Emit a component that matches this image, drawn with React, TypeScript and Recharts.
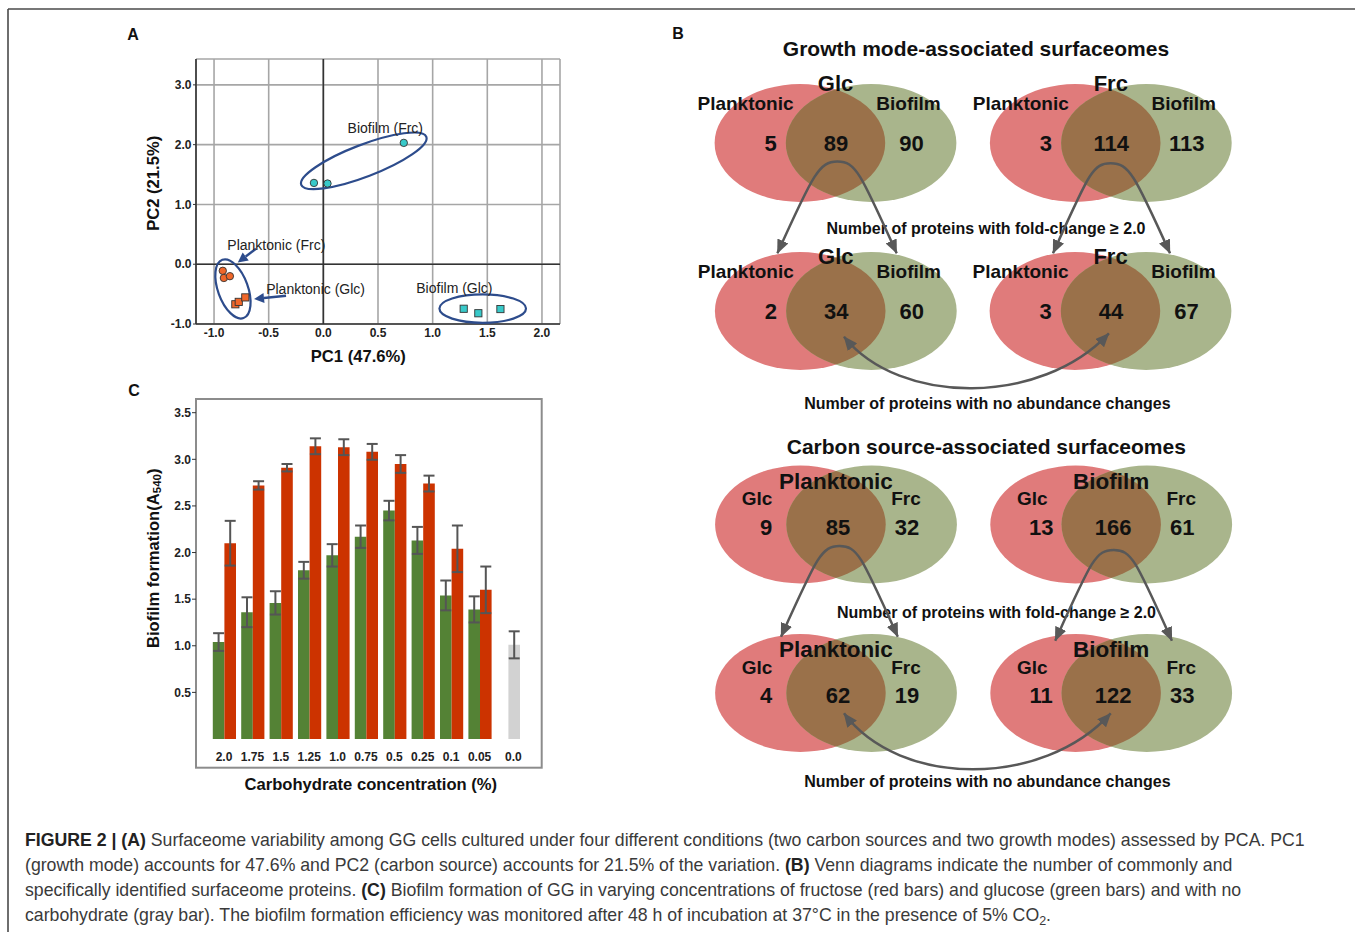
import React from "react";
import {
  ScatterChart,
  Scatter,
  XAxis,
  YAxis,
  CartesianGrid,
  ReferenceLine,
  ReferenceDot,
  BarChart,
  Bar,
  ErrorBar,
  Cell,
} from "recharts";

const FONT = '"Liberation Sans", Arial, Helvetica, sans-serif';

// ---- Panel A: PCA scores ----
const planktonicFrc = [
  { pc1: -0.92, pc2: -0.11 },
  { pc1: -0.91, pc2: -0.23 },
  { pc1: -0.855, pc2: -0.2 },
];
const planktonicGlc = [
  { pc1: -0.805, pc2: -0.67 },
  { pc1: -0.774, pc2: -0.63 },
  { pc1: -0.714, pc2: -0.555 },
];
const biofilmFrc = [
  { pc1: -0.086, pc2: 1.36 },
  { pc1: 0.038, pc2: 1.35 },
  { pc1: 0.736, pc2: 2.03 },
];
const biofilmGlc = [
  { pc1: 1.284, pc2: -0.745 },
  { pc1: 1.418, pc2: -0.82 },
  { pc1: 1.62, pc2: -0.75 },
];
const pc1Ticks = [-1, -0.5, 0, 0.5, 1, 1.5, 2];
const pc2Ticks = [-1, 0, 1, 2, 3];

const groupNames = ["Biofilm (Frc)", "Planktonic (Frc)", "Planktonic (Glc)", "Biofilm (Glc)"];
const groupLabelPc1 = [0.567, -0.43, -0.071, 1.199];
const groupLabelPc2 = [2.28, 0.317, -0.42, -0.4];

// ---- Panel C: biofilm formation ----
const concentrations = ["2.0", "1.75", "1.5", "1.25", "1.0", "0.75", "0.5", "0.25", "0.1", "0.05", "0.0"];
const glucose = [1.04, 1.36, 1.46, 1.81, 1.97, 2.17, 2.45, 2.13, 1.54, 1.39, null];
const glucoseErr = [0.095, 0.16, 0.125, 0.09, 0.12, 0.12, 0.105, 0.145, 0.16, 0.14, null];
const fructose = [2.1, 2.72, 2.91, 3.14, 3.13, 3.08, 2.95, 2.74, 2.04, 1.6, null];
const fructoseErr = [0.24, 0.045, 0.04, 0.085, 0.085, 0.085, 0.095, 0.085, 0.25, 0.25, null];
const noCarbohydrate = 1.01;
const noCarbohydrateErr = 0.145;
const biofilmTicks = [0.5, 1, 1.5, 2, 2.5, 3, 3.5];

const barTable = concentrations.map((c, i) => ({
  conc: c,
  glc: glucose[i],
  glcErr: glucoseErr[i],
  frc: fructose[i] ?? noCarbohydrate,
  frcErr: fructoseErr[i] ?? noCarbohydrateErr,
  control: fructose[i] == null,
}));

// ---- Panel B: Venn counts ----
const growthVenns = [
  { set: "Glc", left: "Planktonic", right: "Biofilm", counts: [5, 89, 90] },
  { set: "Frc", left: "Planktonic", right: "Biofilm", counts: [3, 114, 113] },
  { set: "Glc", left: "Planktonic", right: "Biofilm", counts: [2, 34, 60] },
  { set: "Frc", left: "Planktonic", right: "Biofilm", counts: [3, 44, 67] },
];
const carbonVenns = [
  { set: "Planktonic", left: "Glc", right: "Frc", counts: [9, 85, 32] },
  { set: "Biofilm", left: "Glc", right: "Frc", counts: [13, 166, 61] },
  { set: "Planktonic", left: "Glc", right: "Frc", counts: [4, 62, 19] },
  { set: "Biofilm", left: "Glc", right: "Frc", counts: [11, 122, 33] },
];

// colours
const CYAN = "#38c9c9";
const ORANGE = "#f0672a";
const RING = "#2d4c8c";
const GREEN_BAR = "#548235";
const RED_BAR = "#cc3300";
const GRAY_BAR = "#d2d2d2";
const V_RED = "#e07b7b";
const V_GREEN = "#a9b58c";
const V_MIX = "#9a714a";
const ARROW = "#585858";

// venn layout
const growthPos = [
  { cx: 835.5, cy: 143, tdy: -60 },
  { cx: 1110.8, cy: 143, tdy: -60 },
  { cx: 835.8, cy: 311, tdy: -55 },
  { cx: 1110.5, cy: 311, tdy: -55 },
];
const carbonPos = [
  { cx: 836, cy: 524.5, tdy: -43 },
  { cx: 1111.2, cy: 524.5, tdy: -43 },
  { cx: 836, cy: 693, tdy: -44 },
  { cx: 1111.2, cy: 693, tdy: -44 },
];
const growthStyle = { titleSize: 22, sideSize: 19, sideDx: [-90, 73], sideDy: -40, numDx: [-65, 0.5, 76], numDy: 0.5 };
const carbonStyle = { titleSize: 22.5, sideSize: 19, sideDx: [-79, 70], sideDy: -26, numDx: [-70, 2, 71], numDy: 2.5 };

const RX = 85.3;
const RY = 59;
const HALF = 35.6;

function Venn({ v, pos, st, id }: any) {
  const { cx, cy, tdy } = pos;
  return (
    <g>
      <defs>
        <clipPath id={id}>
          <ellipse cx={cx + HALF} cy={cy} rx={RX} ry={RY} />
        </clipPath>
      </defs>
      <ellipse cx={cx - HALF} cy={cy} rx={RX} ry={RY} fill={V_RED} />
      <ellipse cx={cx + HALF} cy={cy} rx={RX} ry={RY} fill={V_GREEN} />
      <ellipse cx={cx - HALF} cy={cy} rx={RX} ry={RY} fill={V_MIX} clipPath={`url(#${id})`} />
      <g fontWeight={700} fill="#111" textAnchor="middle" dominantBaseline="central">
        <text x={cx} y={cy + tdy} fontSize={st.titleSize}>{v.set}</text>
        <text x={cx + st.sideDx[0]} y={cy + st.sideDy} fontSize={st.sideSize}>{v.left}</text>
        <text x={cx + st.sideDx[1]} y={cy + st.sideDy} fontSize={st.sideSize}>{v.right}</text>
        {v.counts.map((n: number, i: number) => (
          <text key={i} x={cx + st.numDx[i]} y={cy + st.numDy} fontSize={22}>{n}</text>
        ))}
      </g>
    </g>
  );
}

function splitArrow(tipL: number[], peak: number[], tipR: number[]) {
  const [lx, ly] = tipL;
  const [px, py] = peak;
  const [rx, ry] = tipR;
  return `M${lx},${ly} C${lx + 36},${ly - 80} ${px - 18},${py} ${px},${py} C${px + 18},${py} ${rx - 36},${ry - 80} ${rx},${ry}`;
}
function sagArrow(a: number[], b: number[], sag: number) {
  const [ax, ay] = a;
  const [bx, by] = b;
  return `M${ax},${ay} C${ax + 56},${sag} ${bx - 68},${sag} ${bx},${by}`;
}

function ArrowLine(props: any) {
  const { x1, y1, x2, y2 } = props;
  const ang = Math.atan2(y2 - y1, x2 - x1);
  const L = 10;
  const w = 5;
  const bx = x2 - L * Math.cos(ang);
  const by = y2 - L * Math.sin(ang);
  const px = -Math.sin(ang) * w;
  const py = Math.cos(ang) * w;
  return (
    <g>
      <line x1={x1} y1={y1} x2={bx} y2={by} stroke={RING} strokeWidth={2.4} />
      <polygon points={`${x2},${y2} ${bx + px},${by + py} ${bx - px},${by - py}`} fill={RING} />
    </g>
  );
}

const dot = (fill: string) => (p: any) => (
  <circle cx={p.cx} cy={p.cy} r={3.7} fill={fill} stroke="#333" strokeWidth={0.9} />
);
const square = (fill: string) => (p: any) => (
  <rect x={p.cx - 3.6} y={p.cy - 3.6} width={7.2} height={7.2} fill={fill} stroke="#333" strokeWidth={0.9} />
);

const rings = [
  { pc1: 0.37, pc2: 1.73, rx: 67, ry: 16, angle: -21 },
  { pc1: -0.827, pc2: -0.413, rx: 15, ry: 31, angle: -20 },
  { pc1: 1.458, pc2: -0.742, rx: 43.3, ry: 14.2, angle: 0 },
];

const ConcTick = (p: any) => {
  const shift = p.payload.value === "0.0" ? 5.3 : 0;
  return (
    <text x={p.x + shift} y={p.y} dy="0.71em" textAnchor="middle" fontSize={12} fontWeight={700} fill="#222">
      {p.payload.value}
    </text>
  );
};

export default function App() {
  const tickStyle = { fontSize: 12, fontWeight: 700, fill: "#222" };
  return (
    <div style={{ position: "absolute", left: 0, top: 0, width: 1355, height: 932, fontFamily: FONT, background: "#fff", overflow: "hidden" }}>
      <svg width={1355} height={932} style={{ position: "absolute", left: 0, top: 0 }}>
        <defs>
          <marker id="ah" viewBox="0 0 14 12" refX={13.5} refY={6} markerWidth={14} markerHeight={12} markerUnits="userSpaceOnUse" orient="auto-start-reverse">
            <path d="M0,0 L14,6 L0,12 z" fill={ARROW} />
          </marker>
        </defs>
        {/* figure frame */}
        <line x1={8} y1={9} x2={1355} y2={9} stroke="#4a4a4a" strokeWidth={1.6} />
        <line x1={8} y1={9} x2={8} y2={932} stroke="#4a4a4a" strokeWidth={1.6} />

        {/* panel letters */}
        <g fontWeight={700} fontSize={16} fill="#111" textAnchor="middle" dominantBaseline="central">
          <text x={133} y={34}>A</text>
          <text x={678} y={33}>B</text>
          <text x={134} y={390}>C</text>
        </g>

        {/* axis titles */}
        <g fontWeight={700} fontSize={16.6} fill="#111" textAnchor="middle" dominantBaseline="central">
          <text x={358.3} y={356.7}>PC1 (47.6%)</text>
          <text x={153.3} y={183.3} transform="rotate(-90 153.3 183.3)">PC2 (21.5%)</text>
          <text x={153.3} y={558.3} transform="rotate(-90 153.3 558.3)">
            Biofilm formation(A<tspan fontSize={11.5} dy={4}>540</tspan><tspan dy={-4}>)</tspan>
          </text>
          <text x={370.8} y={784}>Carbohydrate concentration (%)</text>
        </g>

        {/* panel C frame */}
        <rect x={196} y={399} width={345.7} height={368.7} fill="none" stroke="#8c8c8c" strokeWidth={2} />

        {/* panel B */}
        <g fontWeight={700} fill="#111" textAnchor="middle" dominantBaseline="central">
          <text x={976} y={48} fontSize={21}>Growth mode-associated surfaceomes</text>
          <text x={986.3} y={446.7} fontSize={21}>Carbon source-associated surfaceomes</text>
        </g>
        {growthVenns.map((v, i) => (
          <Venn key={"g" + i} v={v} pos={growthPos[i]} st={growthStyle} id={"vg" + i} />
        ))}
        {carbonVenns.map((v, i) => (
          <Venn key={"c" + i} v={v} pos={carbonPos[i]} st={carbonStyle} id={"vc" + i} />
        ))}
        <g fontWeight={700} fill="#111" textAnchor="middle" dominantBaseline="central" fontSize={16}>
          <text x={986} y={228.3}>Number of proteins with fold-change ≥ 2.0</text>
          <text x={987.4} y={403}>Number of proteins with no abundance changes</text>
          <text x={996.5} y={612.7}>Number of proteins with fold-change ≥ 2.0</text>
          <text x={987.4} y={781.7}>Number of proteins with no abundance changes</text>
        </g>
        <g fill="none" stroke={ARROW} strokeWidth={2.5} markerStart="url(#ah)" markerEnd="url(#ah)">
          <path d={splitArrow([777.4, 253.3], [837.5, 161.5], [896.7, 253.3])} />
          <path d={splitArrow([1053, 253.3], [1110.7, 163.3], [1170, 253.3])} />
          <path d={sagArrow([844, 336.7], [1108.9, 333.3], 406)} />
          <path d={splitArrow([781, 636.7], [839.6, 546], [897.8, 636.7])} />
          <path d={splitArrow([1055.2, 640.7], [1113.7, 550], [1171.9, 640.7])} />
          <path d={sagArrow([844, 713.3], [1110.7, 713.3], 788)} />
        </g>
      </svg>

      {/* Panel A */}
      <div style={{ position: "absolute", left: 130, top: 40 }}>
        <ScatterChart width={450} height={320} margin={{ top: 19, right: 20, bottom: 6, left: 26 }}>
          <CartesianGrid stroke="#a6a6a6" strokeWidth={1.6} />
          <XAxis
            type="number"
            dataKey="pc1"
            domain={[-1.165, 2.165]}
            allowDataOverflow
            ticks={pc1Ticks}
            tickFormatter={(v: number) => v.toFixed(1)}
            tick={tickStyle}
            tickLine={false}
            tickSize={0}
            tickMargin={4}
            height={30}
            axisLine={{ stroke: "#333", strokeWidth: 1.6 }}
          />
          <YAxis
            type="number"
            dataKey="pc2"
            domain={[-1, 3.433]}
            allowDataOverflow
            ticks={pc2Ticks}
            tickFormatter={(v: number) => v.toFixed(1)}
            tick={tickStyle}
            tickSize={3}
            tickMargin={1.5}
            tickLine={{ stroke: "#333" }}
            width={40}
            axisLine={{ stroke: "#333", strokeWidth: 1.6 }}
          />
          <ReferenceLine x={0} stroke="#333" strokeWidth={1.6} />
          <ReferenceLine y={0} stroke="#333" strokeWidth={1.6} />
          {rings.map((r, i) => (
            <ReferenceDot
              key={"r" + i}
              x={r.pc1}
              y={r.pc2}
              r={1}
              shape={(p: any) => (
                <ellipse cx={p.cx} cy={p.cy} rx={r.rx} ry={r.ry} transform={`rotate(${r.angle} ${p.cx} ${p.cy})`} fill="none" stroke={RING} strokeWidth={2.2} />
              )}
            />
          ))}
          <Scatter data={planktonicFrc} shape={dot(ORANGE)} isAnimationActive={false} />
          <Scatter data={planktonicGlc} shape={square(ORANGE)} isAnimationActive={false} />
          <Scatter data={biofilmFrc} shape={dot(CYAN)} isAnimationActive={false} />
          <Scatter data={biofilmGlc} shape={square(CYAN)} isAnimationActive={false} />
          <ReferenceLine segment={[{ x: -0.616, y: 0.26 }, { x: -0.783, y: 0.028 }]} shape={ArrowLine} ifOverflow="visible" />
          <ReferenceLine segment={[{ x: -0.341, y: -0.528 }, { x: -0.634, y: -0.583 }]} shape={ArrowLine} ifOverflow="visible" />
          {groupNames.map((name, i) => (
            <ReferenceDot
              key={"l" + i}
              x={groupLabelPc1[i]}
              y={groupLabelPc2[i]}
              r={1}
              shape={(p: any) => (
                <text x={p.cx} y={p.cy} textAnchor="middle" dominantBaseline="central" fontSize={14} fill="#222">
                  {name}
                </text>
              )}
            />
          ))}
        </ScatterChart>
      </div>

      {/* Panel C */}
      <div style={{ position: "absolute", left: 130, top: 394 }}>
        <BarChart width={422} height={380} data={barTable} margin={{ top: 18.7, right: 10, bottom: 5, left: 26 }} barGap={0}>
          <XAxis
            dataKey="conc"
            type="category"
            padding={{ left: 13.8, right: 19.8 }}
            tick={ConcTick}
            tickLine={false}
            axisLine={false}
            tickSize={0}
            tickMargin={13}
            height={30}
            interval={0}
          />
          <YAxis
            type="number"
            domain={[0, 3.5]}
            ticks={biofilmTicks}
            tickFormatter={(v: number) => v.toFixed(1)}
            tick={tickStyle}
            tickSize={4}
            tickMargin={1}
            tickLine={{ stroke: "#333" }}
            axisLine={false}
            width={40}
          />
          <Bar dataKey="glc" fill={GREEN_BAR} barSize={11.6} isAnimationActive={false}>
            <ErrorBar dataKey="glcErr" width={5.5} stroke="#555" strokeWidth={2} isAnimationActive={false} />
          </Bar>
          <Bar dataKey="frc" fill={RED_BAR} barSize={11.6} isAnimationActive={false}>
            {barTable.map((d, i) => (
              <Cell key={i} fill={d.control ? GRAY_BAR : RED_BAR} />
            ))}
            <ErrorBar dataKey="frcErr" width={5.5} stroke="#555" strokeWidth={2} isAnimationActive={false} />
          </Bar>
        </BarChart>
      </div>

      {/* Caption */}
      <div style={{ position: "absolute", left: 25, top: 828, fontSize: 17.7, lineHeight: "25px", color: "#3a3a3a", whiteSpace: "nowrap" }}>
        <div>
          <b style={{ color: "#222" }}>FIGURE 2 | (A)</b> Surfaceome variability among GG cells cultured under four different conditions (two carbon sources and two growth modes) assessed by PCA. PC1
        </div>
        <div>
          (growth mode) accounts for 47.6% and PC2 (carbon source) accounts for 21.5% of the variation. <b style={{ color: "#222" }}>(B)</b> Venn diagrams indicate the number of commonly and
        </div>
        <div>
          specifically identified surfaceome proteins. <b style={{ color: "#222" }}>(C)</b> Biofilm formation of GG in varying concentrations of fructose (red bars) and glucose (green bars) and with no
        </div>
        <div>
          carbohydrate (gray bar). The biofilm formation efficiency was monitored after 48 h of incubation at 37°C in the presence of 5% CO
          <span style={{ fontSize: 12.5, position: "relative", top: 4 }}>2</span>.
        </div>
      </div>
    </div>
  );
}
